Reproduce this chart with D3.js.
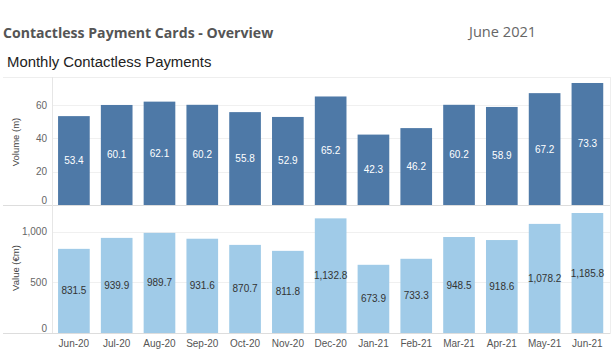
<!DOCTYPE html>
<html><head><meta charset="utf-8">
<script src="https://cdn.jsdelivr.net/npm/d3@7/dist/d3.min.js"></script>
<style>
html,body{margin:0;padding:0;background:#fff;}
svg{display:block;}
</style></head>
<body>
<svg id="chart" width="614" height="360"></svg>
<script>
const months = ["Jun-20","Jul-20","Aug-20","Sep-20","Oct-20","Nov-20","Dec-20","Jan-21","Feb-21","Mar-21","Apr-21","May-21","Jun-21"];
const volume = [53.4,60.1,62.1,60.2,55.8,52.9,65.2,42.3,46.2,60.2,58.9,67.2,73.3];
const value = [831.5,939.9,989.7,931.6,870.7,811.8,1132.8,673.9,733.3,948.5,918.6,1078.2,1185.8];
const volumeTicks = [0,20,40,60];
const valueTicks = [0,500,1000];

const svg = d3.select("#chart");
const left = 52.5, right = 610.5;

// Headers
svg.append("text").attr("x",3).attr("y",38)
  .attr("font-family","'Open Sans', sans-serif").attr("font-weight","bold")
  .attr("font-size",14.1).attr("fill","#555").text("Contactless Payment Cards - Overview");
svg.append("text").attr("x",469).attr("y",37)
  .attr("font-family","'Open Sans', sans-serif")
  .attr("font-size",14.6).attr("fill","#666").text("June 2021");
svg.append("text").attr("x",7).attr("y",67)
  .attr("font-family","'Liberation Sans', Arial, sans-serif")
  .attr("font-size",14.9).attr("fill","#222").text("Monthly Contactless Payments");

const x = d3.scaleBand().domain(months).range([left, 608.8]).paddingInner(0.26).paddingOuter(0.13);

const yV = d3.scaleLinear().domain([0, 76.9]).range([205, 77]);
const yM = d3.scaleLinear().domain([0, 1255]).range([333, 206]);

const font = "'Liberation Sans', Arial, sans-serif";

function panel(y, data, ticks, color, labelColor, fmt, title, titleY) {
  const g = svg.append("g");
  g.selectAll("line.grid").data(ticks.filter(t=>t>0)).join("line")
    .attr("x1", left).attr("x2", right)
    .attr("y1", d=>Math.round(y(d))+0.5).attr("y2", d=>Math.round(y(d))+0.5)
    .attr("stroke","#f0f0f0").attr("stroke-width",1);
  g.selectAll("rect").data(data).join("rect")
    .attr("x",(d,i)=>x(months[i])).attr("width",x.bandwidth())
    .attr("y",d=>y(d)).attr("height",d=>y(0)-y(d))
    .attr("fill",color);
  g.selectAll("text.val").data(data).join("text")
    .attr("x",(d,i)=>x(months[i])+x.bandwidth()/2)
    .attr("y",d=>(y(d)+y(0))/2)
    .attr("dy","0.35em").attr("text-anchor","middle")
    .attr("font-family",font).attr("font-size",10)
    .attr("fill",labelColor).text(d=>fmt(d));
  g.selectAll("text.tick").data(ticks).join("text")
    .attr("x",47).attr("y",d=>y(d) - (d===0?4.5:0))
    .attr("dy","0.35em").attr("text-anchor","end")
    .attr("font-family",font).attr("font-size",10)
    .attr("fill","#666").text(d=>d3.format(",")(d));
  g.append("text").attr("transform",`translate(16,${titleY}) rotate(-90)`)
    .attr("text-anchor","middle").attr("dy","0.35em")
    .attr("font-family",font).attr("font-size",9.5)
    .attr("fill","#444").text(title);
  g.append("line").attr("x1",3).attr("x2",right)
    .attr("y1",Math.round(y(0))+0.5).attr("y2",Math.round(y(0))+0.5)
    .attr("stroke","#ddd").attr("stroke-width",1);
}

panel(yV, volume, volumeTicks, "#4e79a7", "#fff", d3.format(".1f"), "Volume (m)", 142);
panel(yM, value, valueTicks, "#a0cbe8", "#333", d3.format(",.1f"), "Value (€m)", 268);

svg.append("line").attr("x1",3).attr("x2",right).attr("y1",77.5).attr("y2",77.5).attr("stroke","#eee");
svg.append("line").attr("x1",left).attr("x2",left).attr("y1",77).attr("y2",333).attr("stroke","#e6e6e6");
svg.append("line").attr("x1",right).attr("x2",right).attr("y1",77).attr("y2",333).attr("stroke","#eee");

svg.selectAll("text.xl").data(months).join("text")
  .attr("x",d=>x(d)+x.bandwidth()/2).attr("y",343).attr("dy","0.35em")
  .attr("text-anchor","middle").attr("font-family",font).attr("font-size",10)
  .attr("fill","#555").text(d=>d);
</script>
</body></html>
